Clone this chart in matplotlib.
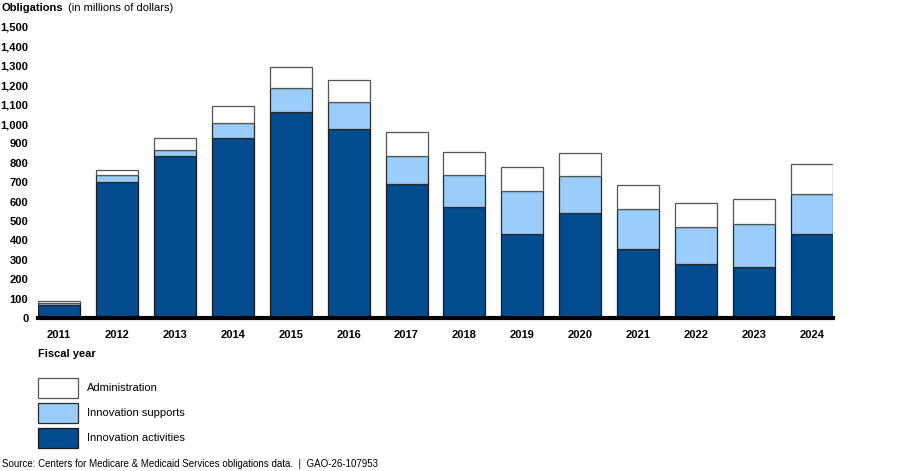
import matplotlib
matplotlib.use("Agg")
import matplotlib.pyplot as plt
from matplotlib.patches import Rectangle
import numpy as np

plt.rcParams['font.family'] = ['Liberation Sans', 'DejaVu Sans']

# Datos (millones de dólares)
anios = ['2011', '2012', '2013', '2014', '2015', '2016', '2017',
         '2018', '2019', '2020', '2021', '2022', '2023', '2024']
actividades = [65, 699, 836, 929, 1060, 974, 691, 574, 435, 541, 356, 277, 263, 431]
soportes = [10, 36, 31, 75, 126, 138, 144, 163, 221, 191, 206, 194, 223, 210]
administracion = [11, 28, 62, 89, 106, 115, 124, 120, 121, 117, 122, 123, 129, 153]
yticks = list(range(0, 1501, 100))
series = ['Administration', 'Innovation supports', 'Innovation activities']

azul_oscuro = '#024C8F'
azul_claro = '#9BCDFB'
borde = '#555555'

W, H = 900, 471
fig = plt.figure(figsize=(9, 4.71), dpi=100)
ax = fig.add_axes([38 / W, 1 - 318 / H, (833 - 38) / W, (318 - 27) / H])

x = np.arange(len(anios))
ancho = 0.725
act = np.array(actividades)
sop = np.array(soportes)
adm = np.array(administracion)

ax.bar(x, act, ancho, color=azul_oscuro, edgecolor='#1a1a1a', linewidth=0.9)
ax.bar(x, sop, ancho, bottom=act, color=azul_claro, edgecolor='#2a2a2a', linewidth=0.9)
ax.bar(x, adm, ancho, bottom=act + sop, color='white', edgecolor=borde, linewidth=0.9)

ax.set_xlim(-ancho / 2, len(anios) - 1 + ancho / 2)
ax.set_ylim(0, 1500)
ax.set_yticks(yticks)
ax.set_yticklabels([f'{v:,}' for v in yticks], fontsize=8, fontweight='bold')
ax.set_xticks(x)
ax.set_xticklabels(anios, fontsize=8, fontweight='bold')
ax.tick_params(axis='y', length=0, pad=7)
ax.tick_params(axis='x', length=0, pad=9)

for lado in ['top', 'right', 'left']:
    ax.spines[lado].set_visible(False)
ax.spines['bottom'].set_linewidth(3)
ax.spines['bottom'].set_color('black')
ax.spines['bottom'].set_zorder(5)

# Títulos
fig.text(2 / W, 1 - 8 / H, 'Obligations', fontsize=8, fontweight='bold',
         va='center', ha='left')
fig.text(68 / W, 1 - 8 / H, '(in millions of dollars)', fontsize=8,
         va='center', ha='left')
fig.text(38 / W, 1 - 354 / H, 'Fiscal year', fontsize=8, fontweight='bold',
         va='center', ha='left')

# Leyenda dibujada a mano
colores = ['white', azul_claro, azul_oscuro]
bordes = [borde, '#2a2a2a', '#1a1a1a']
for i, (nombre, c, e) in enumerate(zip(series, colores, bordes)):
    y0 = 377.7 + i * 25
    fig.add_artist(Rectangle((38 / W, 1 - (y0 + 20) / H), 40 / W, 20 / H,
                             transform=fig.transFigure, facecolor=c,
                             edgecolor=e, linewidth=0.9))
    fig.text(87 / W, 1 - (y0 + 10) / H, nombre, fontsize=8, va='center', ha='left')

fig.text(2 / W, 1 - 464 / H,
         'Source: Centers for Medicare & Medicaid Services obligations data.  |  GAO-26-107953',
         fontsize=7, va='center', ha='left')

fig.savefig('out.png', dpi=100)
